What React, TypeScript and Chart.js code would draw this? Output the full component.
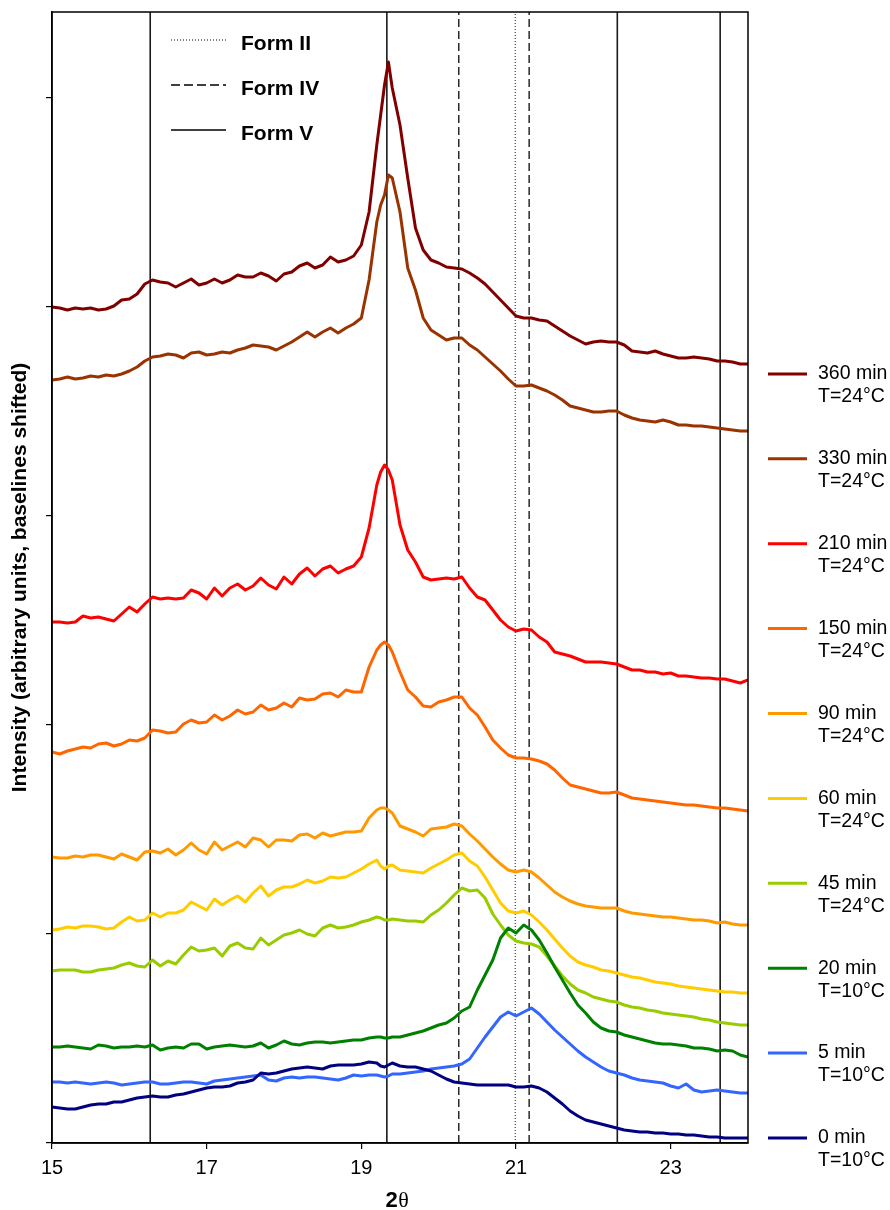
import React, { useEffect, useRef } from "react";
import { Chart, registerables } from "chart.js";

Chart.register(...registerables);

// 2θ grid (degrees)
const X = [
  15.0, 15.1, 15.2, 15.3, 15.4, 15.5, 15.6, 15.7, 15.8, 15.9,
  16.0, 16.1, 16.2, 16.3, 16.4, 16.5, 16.6, 16.7, 16.8, 16.9,
  17.0, 17.1, 17.2, 17.3, 17.4, 17.5, 17.6, 17.7, 17.8, 17.9,
  18.0, 18.1, 18.2, 18.3, 18.4, 18.5, 18.6, 18.7, 18.8, 18.9,
  19.0, 19.1, 19.2, 19.25, 19.3, 19.35, 19.4, 19.5, 19.6, 19.7,
  19.8, 19.9, 20.0, 20.1, 20.2, 20.3, 20.4, 20.5, 20.6, 20.7,
  20.8, 20.9, 21.0, 21.1, 21.2, 21.3, 21.4, 21.5, 21.6, 21.7,
  21.8, 21.9, 22.0, 22.1, 22.2, 22.3, 22.4, 22.5, 22.6, 22.7,
  22.8, 22.9, 23.0, 23.1, 23.2, 23.3, 23.4, 23.5, 23.6, 23.7,
  23.8, 23.9, 24.0,
];

// Intensities (arbitrary units, baselines shifted)
const I_360 = [
  836, 835, 833, 835, 834, 835, 833, 834, 837, 843,
  844, 849, 859, 863, 861, 860, 856, 860, 864, 858,
  860, 864, 860, 863, 868, 866, 866, 870, 867, 862,
  869, 871, 877, 880, 875, 878, 886, 881, 883, 887,
  898, 931, 998, 1028, 1058, 1081, 1055, 1018, 965, 915,
  893, 883, 880, 876, 875, 874, 870, 865, 859, 851,
  843, 835, 827, 825, 825, 823, 822, 817, 812, 807,
  803, 799, 801, 802, 801, 801, 798, 792, 791, 790,
  792, 789, 787, 785, 785, 786, 785, 784, 782, 782,
  781, 779, 779,
];
const I_330 = [
  763, 764, 766, 764, 765, 767, 766, 768, 767, 769,
  772, 776, 782, 786, 787, 789, 788, 785, 790, 791,
  788, 789, 791, 790, 793, 795, 798, 797, 796, 793,
  797, 801, 806, 811, 806, 811, 815, 810, 815, 819,
  825, 863, 921, 938, 948, 968, 965, 931, 875, 853,
  825, 813, 808, 803, 805, 805, 798, 793, 786, 779,
  772, 764, 757, 757, 758, 755, 752, 748, 743, 737,
  735, 733, 731, 731, 732, 732, 728, 725, 723, 722,
  721, 723, 721, 718, 718, 717, 717, 716, 715, 714,
  713, 712, 712,
];
const I_210 = [
  521, 521, 520, 521, 527, 525, 526, 524, 522, 529,
  536, 531, 539, 546, 544, 545, 544, 545, 553, 550,
  544, 555, 547, 555, 559, 553, 557, 565, 558, 554,
  566, 559, 569, 575, 567, 574, 577, 570, 574, 577,
  586, 615, 658, 671, 678, 673, 663, 618, 593, 581,
  566, 563, 564, 565, 564, 566, 555, 546, 543, 533,
  523, 516, 512, 514, 513, 506, 501, 491, 489, 487,
  484, 481, 481, 481, 480, 479, 476, 473, 473, 471,
  471, 469, 470, 467, 467, 466, 465, 465, 464, 464,
  462, 460, 463,
];
const I_150 = [
  391, 389, 392, 394, 396, 395, 399, 400, 397, 399,
  403, 402, 405, 413, 412, 410, 411, 419, 423, 420,
  421, 428, 423, 427, 433, 429, 431, 438, 433, 435,
  440, 436, 445, 443, 444, 449, 450, 446, 453, 451,
  451, 476, 493, 498, 501, 498, 491, 471, 453, 446,
  437, 436, 441, 443, 446, 446, 435, 428, 416, 403,
  395, 388, 385, 385, 384, 382, 379, 373, 365, 358,
  356, 354, 352, 350, 350, 351, 348, 345, 344, 343,
  342, 341, 340, 339, 338, 338, 337, 336, 335, 335,
  334, 333, 332,
];
const I_90 = [
  286, 285, 285, 287, 286, 288, 288, 286, 284, 289,
  286, 283, 291, 292, 290, 294, 288, 293, 300, 293,
  289, 301, 293, 297, 301, 296, 305, 303, 296, 303,
  303, 302, 308, 309, 305, 310, 307, 309, 311, 311,
  312, 325, 333, 335, 335, 333, 330, 317, 314, 311,
  307, 314, 315, 316, 319, 317, 309, 302, 294, 286,
  279, 273, 271, 273, 271, 265, 258, 251, 246, 242,
  239, 237, 236, 235, 235, 235, 232, 230, 229, 228,
  227, 226, 226, 225, 224, 223, 223, 222, 220, 221,
  219, 218, 218,
];
const I_60 = [
  213, 214, 216, 215, 217, 217, 216, 214, 215, 221,
  226, 222, 223, 230, 226, 230, 230, 233, 241, 237,
  233, 244, 238, 243, 247, 241, 250, 257, 247, 253,
  256, 256, 259, 263, 260, 262, 266, 265, 266, 270,
  274, 279, 283, 277, 274, 277, 278, 273, 272, 271,
  270, 275, 279, 283, 288, 290, 282, 277, 266, 253,
  240, 232, 230, 232, 228, 221, 213, 204, 195, 187,
  181, 178, 176, 173, 172, 170, 168, 166, 165, 163,
  161, 160, 159, 157, 156, 155, 154, 153, 152, 151,
  151, 150, 150,
];
const I_45 = [
  172, 173, 173, 173, 171, 171, 173, 174, 175, 178,
  180, 177, 176, 183, 177, 182, 179, 188, 196, 192,
  193, 195, 187, 197, 200, 195, 194, 205, 198, 203,
  208, 210, 213, 209, 207, 215, 218, 215, 216, 218,
  221, 223, 226, 225, 223, 223, 224, 223, 222, 222,
  221, 228, 233, 240, 248, 255, 252, 253, 245, 229,
  218, 208, 202, 200, 199, 196, 187, 177, 167, 159,
  153, 150, 146, 144, 142, 141, 138, 136, 135, 133,
  132, 130, 129, 128, 127, 126, 124, 123, 121, 120,
  119, 118, 118,
];
const I_20 = [
  96, 96, 97, 96, 95, 94, 98, 97, 95, 96,
  96, 97, 96, 98, 93, 95, 96, 95, 99, 99,
  94, 96, 97, 98, 97, 96, 97, 100, 95, 98,
  102, 99, 98, 100, 101, 101, 100, 101, 102, 103,
  103, 105, 106, 106, 105, 105, 106, 106, 108, 110,
  112, 115, 118, 120, 125, 132, 136, 153, 168, 183,
  205, 215, 210, 218, 213, 203, 190, 176, 163, 150,
  138, 130, 121, 115, 112, 111, 108, 106, 104, 102,
  100, 99, 99, 98, 97, 95, 95, 94, 92, 93,
  92, 88, 86,
];
const I_5 = [
  61, 61, 60, 61, 60, 59, 60, 61, 60, 58,
  59, 60, 61, 61, 59, 59, 60, 61, 61, 60,
  59, 62, 63, 64, 65, 66, 67, 68, 63, 62,
  65, 66, 65, 66, 66, 65, 64, 63, 65, 68,
  67, 68, 68, 67, 66, 67, 69, 69, 70, 71,
  72, 74, 75, 76, 77, 79, 84, 95, 106, 116,
  126, 131, 127, 131, 135, 129, 121, 113, 106, 99,
  92, 86, 81, 76, 72, 70, 68, 65, 63, 62,
  61, 60, 57, 55, 59, 53, 51, 52, 53, 52,
  51, 50, 50,
];
const I_0 = [
  36, 35, 34, 34, 36, 38, 39, 39, 41, 41,
  43, 45, 46, 47, 46, 46, 48, 49, 51, 53,
  55, 56, 56, 57, 60, 61, 63, 70, 69, 70,
  72, 74, 75, 76, 75, 74, 77, 78, 78, 78,
  79, 81, 80, 77, 76, 78, 80, 77, 76, 76,
  74, 72, 68, 64, 61, 60, 59, 58, 58, 58,
  58, 58, 56, 56, 57, 55, 51, 45, 39, 32,
  27, 23, 21, 19, 17, 15, 13, 12, 11, 11,
  10, 10, 9, 9, 8, 8, 7, 6, 6, 5,
  5, 5, 5,
];

// Series, legend order top to bottom
const SERIES_TIMES = ["360 min", "330 min", "210 min", "150 min", "90 min", "60 min", "45 min", "20 min", "5 min", "0 min"];
const SERIES_TEMPS = ["T=24°C", "T=24°C", "T=24°C", "T=24°C", "T=24°C", "T=24°C", "T=24°C", "T=10°C", "T=10°C", "T=10°C"];
const SERIES_COLORS = ["#800000", "#993300", "#FF0000", "#FF6600", "#FF9900", "#FFCC00", "#99CC00", "#008000", "#3366FF", "#000080"];
const SERIES_VALUES = [I_360, I_330, I_210, I_150, I_90, I_60, I_45, I_20, I_5, I_0];

// Reference reflections (2θ)
const FORM_II = [20.99];
const FORM_IV = [20.26, 21.17];
const FORM_V = [16.27, 19.33, 22.31, 23.64];

const X_TICKS = [15, 17, 19, 21, 23];
const Y_TICKS = [0, 209, 418, 627, 836, 1045];
const X_MIN = 15;
const X_MAX = 24;
const Y_MIN = 0;
const Y_MAX = 1131;

const FONT = "'Liberation Sans', Arial, Helvetica, sans-serif";

const decorPlugin = {
  id: "decor",
  afterDatasetsDraw(chart: any) {
    const { ctx, chartArea } = chart;
    const { left, right, top, bottom } = chartArea;
    ctx.save();
    // frame
    ctx.strokeStyle = "#000";
    ctx.lineWidth = 1.5;
    ctx.setLineDash([]);
    ctx.strokeRect(left, top, right - left, bottom - top);

    // form legend (top-left inside plot)
    const forms = [
      { label: "Form II", dash: [1, 2], width: 1 },
      { label: "Form IV", dash: [9, 4], width: 1.3 },
      { label: "Form V", dash: [], width: 1.5 },
    ];
    ctx.font = `bold 21px ${FONT}`;
    ctx.textBaseline = "middle";
    ctx.textAlign = "left";
    forms.forEach((f, i) => {
      const y = top + 28 + i * 45;
      ctx.beginPath();
      ctx.setLineDash(f.dash);
      ctx.lineWidth = f.width;
      ctx.strokeStyle = "#000";
      ctx.moveTo(left + 119, y);
      ctx.lineTo(left + 174, y);
      ctx.stroke();
      ctx.setLineDash([]);
      ctx.fillStyle = "#000";
      ctx.fillText(f.label, left + 189, y + 4);
    });

    // series legend (right)
    ctx.font = `19.5px ${FONT}`;
    const n = SERIES_TIMES.length;
    for (let i = 0; i < n; i++) {
      const y = bottom - 5 - (n - 1 - i) * 84.9;
      ctx.beginPath();
      ctx.strokeStyle = SERIES_COLORS[i];
      ctx.lineWidth = 3;
      ctx.moveTo(right + 20, y);
      ctx.lineTo(right + 59, y);
      ctx.stroke();
      ctx.fillStyle = "#000";
      ctx.fillText(SERIES_TIMES[i], right + 70, y);
      ctx.fillText(SERIES_TEMPS[i], right + 70, y + 23);
    }

    // x axis title: bold "2" + theta
    ctx.textBaseline = "alphabetic";
    const cx = (left + right) / 2;
    ctx.font = `bold 22px ${FONT}`;
    const w2 = ctx.measureText("2").width;
    ctx.font = `22px 'Liberation Serif', 'DejaVu Serif', serif`;
    const wt = ctx.measureText("θ").width;
    const x0 = cx - (w2 + wt) / 2 - 3;
    ctx.font = `bold 22px ${FONT}`;
    ctx.fillText("2", x0, 1207);
    ctx.font = `22px 'Liberation Serif', 'DejaVu Serif', serif`;
    ctx.fillText("θ", x0 + w2 + 0.5, 1207);
    ctx.restore();
  },
};

export default function App() {
  const ref = useRef<HTMLCanvasElement | null>(null);

  useEffect(() => {
    if (!ref.current) return;
    Chart.defaults.font.family = FONT;
    const seriesDatasets = SERIES_VALUES.map((vals, i) => ({
      label: SERIES_TIMES[i],
      data: X.map((x, k) => ({ x, y: vals[k] })),
      borderColor: SERIES_COLORS[i],
      backgroundColor: SERIES_COLORS[i],
      borderWidth: 3,
      borderJoinStyle: "round" as const,
      pointRadius: 0,
      tension: 0,
      fill: false,
    }));
    // earlier times drawn on top
    seriesDatasets.reverse();

    const vline = (xs: number[], dash: number[], width: number, tag: string) =>
      xs.map((x) => ({
        label: tag,
        data: [
          { x, y: Y_MIN },
          { x, y: Y_MAX },
        ],
        borderColor: "#1a1a1a",
        borderWidth: width,
        borderDash: dash,
        pointRadius: 0,
        fill: false,
      }));

    const datasets: any[] = [
      ...seriesDatasets,
      ...vline(FORM_V, [], 1.6, "Form V"),
      ...vline(FORM_IV, [8, 4], 1.4, "Form IV"),
      ...vline(FORM_II, [1, 2], 1, "Form II"),
    ];

    const chart = new Chart(ref.current, {
      type: "line",
      data: { datasets },
      plugins: [decorPlugin],
      options: {
        animation: false,
        responsive: false,
        devicePixelRatio: 1,
        parsing: true,
        layout: { padding: { left: 0, top: 12, right: 142, bottom: 0 } },
        plugins: {
          legend: { display: false },
          tooltip: { enabled: false },
        },
        scales: {
          x: {
            type: "linear",
            min: X_MIN,
            max: X_MAX,
            afterBuildTicks: (scale: any) => {
              scale.ticks = X_TICKS.map((v) => ({ value: v }));
            },
            afterFit: (scale: any) => {
              scale.height = 67;
            },
            ticks: {
              autoSkip: false,
              maxRotation: 0,
              color: "#000",
              padding: 7,
              font: { size: 20, family: FONT },
              callback: (v: any) => String(v),
            },
            grid: {
              display: true,
              drawOnChartArea: false,
              drawTicks: true,
              tickLength: 6,
              color: "#000",
              lineWidth: 1.2,
            },
            border: { display: true, color: "#000", width: 1.5 },
          },
          y: {
            type: "linear",
            min: Y_MIN,
            max: Y_MAX,
            afterBuildTicks: (scale: any) => {
              scale.ticks = Y_TICKS.map((v) => ({ value: v }));
            },
            afterFit: (scale: any) => {
              scale.width = 52;
            },
            ticks: {
              color: "#000",
              callback: () => "",
            },
            grid: {
              display: true,
              drawOnChartArea: false,
              drawTicks: true,
              tickLength: 6,
              color: "#000",
              lineWidth: 1.2,
            },
            border: { display: true, color: "#000", width: 1.5 },
            title: {
              display: true,
              text: "Intensity (arbitrary units, baselines shifted)",
              color: "#000",
              font: { size: 21, weight: "bold", family: FONT },
              padding: { top: 8, bottom: 0 },
            },
          },
        },
      },
    });
    return () => chart.destroy();
  }, []);

  return (
    <div style={{ position: "fixed", left: 0, top: 0, width: 890, height: 1210, background: "#fff" }}>
      <canvas ref={ref} width={890} height={1210} style={{ width: 890, height: 1210, display: "block" }} />
    </div>
  );
}
